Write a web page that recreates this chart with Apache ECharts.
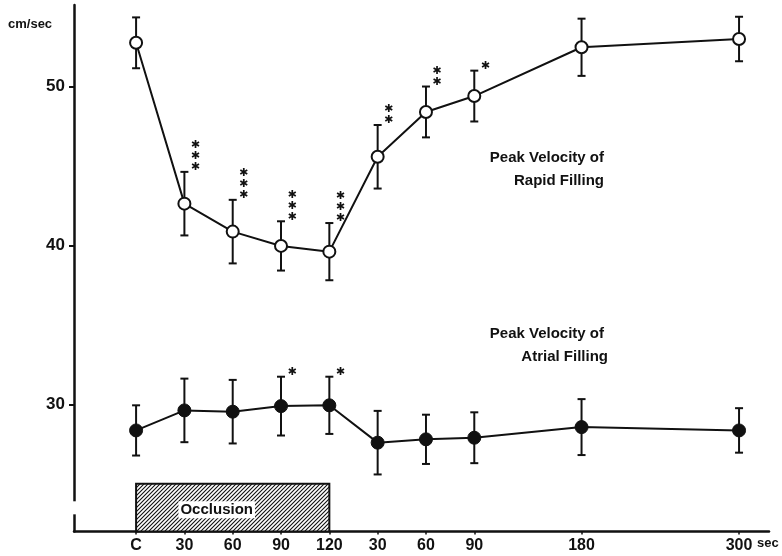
<!DOCTYPE html>
<html><head><meta charset="utf-8">
<script src="https://cdn.jsdelivr.net/npm/echarts@6/dist/echarts.min.js"></script>
<style>html,body{margin:0;padding:0;background:#fff}#c{width:782px;height:556px}</style>
</head><body><div id="c"></div>
<script>
// ---- data ----
const tickLabels = ['C','30','60','90','120','30','60','90','180','300'];
const xPos = [0,1,2,3,4,5,6,7,9.22,12.48];
const rapidMean = [52.75,42.63,40.87,39.97,39.61,45.58,48.40,49.40,52.47,52.99];
const rapidSE   = [1.6,2.0,2.0,1.55,1.8,2.0,1.6,1.6,1.8,1.4];
const atrialMean = [28.36,29.62,29.54,29.89,29.94,27.59,27.80,27.90,28.57,28.36];
const atrialSE   = [1.58,2.0,2.0,1.85,1.8,2.0,1.55,1.6,1.76,1.4];
const rapidSig  = ['','***','***','***','***','**','**','*','',''];
const atrialSig = ['','','','*','*','','','','',''];
const yTicks = [30,40,50];
const occlusionRange = [0,4];   // C .. 120 sec
const occlusionTop = 25;

// ---- layout ----
const X_MIN = -1.285, X_MAX = 13.1, Y_MIN = 22, Y_MAX = 55.13;
const FONT = '"Liberation Sans",Arial,sans-serif';

function hatch(){
  const c = document.createElement('canvas'); c.width = 4; c.height = 4;
  const g = c.getContext('2d');
  g.fillStyle = '#fff'; g.fillRect(0,0,4,4);
  g.strokeStyle = '#111'; g.lineWidth = 1.1;
  g.beginPath(); g.moveTo(-1,5); g.lineTo(5,-1); g.moveTo(-1,1); g.lineTo(1,-1); g.moveTo(3,5); g.lineTo(5,3); g.stroke();
  return c;
}
const pattern = hatch();

function errData(mean, se, sig){ return mean.map((m,i)=>[xPos[i], m, se[i]]); }
const errSig = {rapidErr: rapidSig, atrialErr: atrialSig};

function errRender(params, api){
  const x = api.value(0), m = api.value(1), e = api.value(2);
  const sig = errSig[params.seriesName][params.dataIndex];
  const t = api.coord([x, m+e]), b = api.coord([x, m-e]);
  const cw = 4;
  const st = {stroke:'#111', lineWidth:2};
  const ch = [
    {type:'line', shape:{x1:t[0],y1:t[1],x2:b[0],y2:b[1]}, style:st},
    {type:'line', shape:{x1:t[0]-cw,y1:t[1],x2:t[0]+cw,y2:t[1]}, style:st},
    {type:'line', shape:{x1:b[0]-cw,y1:b[1],x2:b[0]+cw,y2:b[1]}, style:st}
  ];
  if (sig) {
    ch.push({type:'text', style:{text: sig.split('').map(()=> '\u2731').join('\n'), x:t[0]+11, y:t[1]+1,
      font:'bold 11px "DejaVu Sans"', lineHeight:11, fill:'#111', align:'center', verticalAlign:'bottom'}});
  }
  return {type:'group', children:ch};
}

const chart = echarts.init(document.getElementById('c'), null, {renderer:'canvas'});
chart.setOption({
  backgroundColor:'#fff',
  animation:false,
  grid:{left:74, right:13, top:5, bottom:24.5},
  xAxis:{type:'value', min:X_MIN, max:X_MAX,
    axisLine:{show:true, onZero:false, lineStyle:{color:'#111', width:2.5}},
    splitLine:{show:false},
    axisTick:{show:true, customValues:xPos, length:3, lineStyle:{color:'#111', width:1.5}},
    axisLabel:{customValues:xPos, color:'#111', fontFamily:FONT, fontWeight:'bold', fontSize:16, margin:6,
      formatter:(v)=>{ const i = xPos.indexOf(v); return i>=0 ? tickLabels[i] : ''; }}
  },
  yAxis:{type:'value', min:Y_MIN, max:Y_MAX,
    axisLine:{show:true, onZero:false, lineStyle:{color:'#111', width:2.5}},
    splitLine:{show:false},
    axisTick:{show:true, customValues:yTicks, length:5, lineStyle:{color:'#111', width:2}},
    axisLabel:{customValues:yTicks, color:'#111', fontFamily:FONT, fontWeight:'bold', fontSize:17, margin:9}
  },
  graphic:[
    {type:'text', left:8, top:18, style:{text:'cm/sec', font:'bold 13px "Liberation Sans",Arial', fill:'#111'}},
    {type:'text', left:757, top:537, style:{text:'sec', font:'bold 13px "Liberation Sans",Arial', fill:'#111'}},
    {type:'text', x:604, y:158, style:{text:'Peak Velocity of', align:'right', verticalAlign:'middle', font:'bold 15px "Liberation Sans",Arial', fill:'#111'}},
    {type:'text', x:604, y:181, style:{text:'Rapid Filling', align:'right', verticalAlign:'middle', font:'bold 15px "Liberation Sans",Arial', fill:'#111'}},
    {type:'text', x:604, y:334, style:{text:'Peak Velocity of', align:'right', verticalAlign:'middle', font:'bold 15px "Liberation Sans",Arial', fill:'#111'}},
    {type:'text', x:608, y:357, style:{text:'Atrial Filling', align:'right', verticalAlign:'middle', font:'bold 15px "Liberation Sans",Arial', fill:'#111'}}
  ],
  series:[
    {type:'custom', name:'occlusion', z:1, silent:true,
      data:[[xPos[occlusionRange[0]], xPos[occlusionRange[1]], Y_MIN, occlusionTop]],
      renderItem:(params, api)=>{
        const p1 = api.coord([api.value(0), api.value(3)]);
        const p2 = api.coord([api.value(1), api.value(2)]);
        const g1 = api.coord([X_MIN, 23.9]), g2 = api.coord([X_MIN, 23.08]);
        return {type:'group', children:[
          {type:'rect', shape:{x:p1[0], y:p1[1], width:p2[0]-p1[0], height:p2[1]-p1[1]},
            style:{fill:{image:pattern, repeat:'repeat'}, stroke:'#111', lineWidth:2}},
          {type:'text', style:{text:'Occlusion', x:(p1[0]+p2[0])/2 - 16, y:p1[1]+26, align:'center', verticalAlign:'middle',
            font:'bold 15px "Liberation Sans",Arial', fill:'#111', backgroundColor:'#fff', padding:[1,2,1,2]}},
          {type:'rect', shape:{x:g1[0]-4, y:g1[1], width:8, height:g2[1]-g1[1]}, style:{fill:'#fff'}}
        ]};
      }},
    {type:'custom', name:'rapidErr', z:3, data:errData(rapidMean, rapidSE), renderItem:errRender},
    {type:'custom', name:'atrialErr', z:3, data:errData(atrialMean, atrialSE), renderItem:errRender},
    {type:'line', name:'Peak Velocity of Rapid Filling', z:4, data:rapidMean.map((m,i)=>[xPos[i], m]),
      symbol:'circle', symbolSize:12, lineStyle:{color:'#111', width:2},
      itemStyle:{color:'#fff', borderColor:'#111', borderWidth:2}},
    {type:'line', name:'Peak Velocity of Atrial Filling', z:4, data:atrialMean.map((m,i)=>[xPos[i], m]),
      symbol:'circle', symbolSize:13, lineStyle:{color:'#111', width:2},
      itemStyle:{color:'#111', borderColor:'#111', borderWidth:1}}
  ]
});
</script></body></html>
